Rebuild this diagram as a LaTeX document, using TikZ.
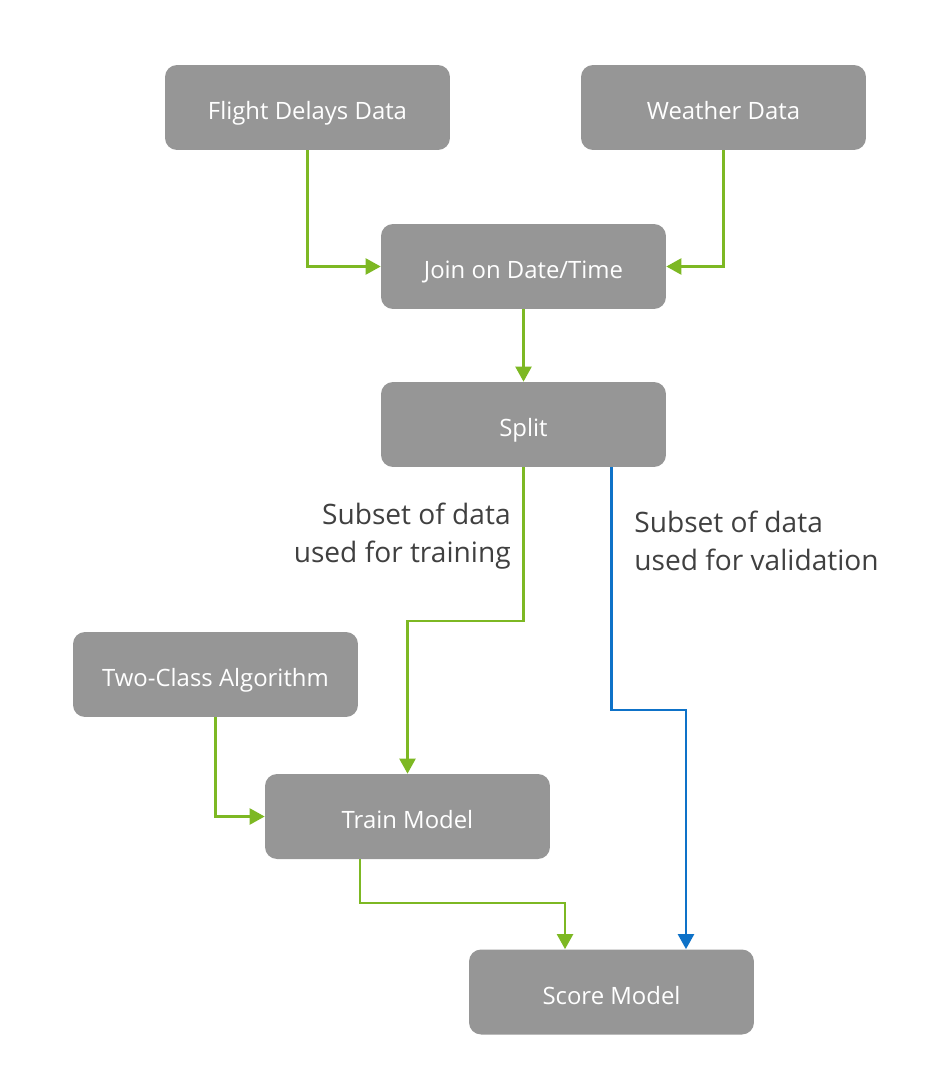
\documentclass[tikz,border=0pt]{standalone}
\usepackage{fontspec}
\setmainfont{Open Sans}
\usetikzlibrary{arrows.meta}
\definecolor{boxgray}{RGB}{150,150,150}
\definecolor{flowgreen}{RGB}{125,184,35}
\definecolor{flowblue}{RGB}{14,114,200}
\definecolor{labelgray}{RGB}{64,64,64}
\begin{document}
\begin{tikzpicture}[x=0.02cm, y=-0.02cm,
  stage/.style={fill=boxgray, rounded corners=0.24cm, minimum width=5.7cm, minimum height=1.7cm,
    text height=14.2pt, text depth=0pt, text=white, font=\fontsize{13.6}{16}\selectfont},
  gline/.style={draw=flowgreen, line width=1.3pt, -{Triangle[length=0.3cm,width=0.32cm]}},
  bline/.style={draw=flowblue, line width=1.3pt, -{Triangle[length=0.3cm,width=0.32cm]}},
  note/.style={text=labelgray, inner sep=0pt, font=\fontsize{16}{21.5}\selectfont}]
\useasboundingbox (0,0) rectangle (938,1084);
% stages
\node (fd)[stage] at (307.5,107.5) {Flight Delays Data};
\node (wd)[stage] at (723.5,107.5) {Weather Data};
\node (join)[stage] at (523.5,266.5) {Join on Date/Time};
\node (split)[stage] at (523.5,424.5) {Split};
\node (algo)[stage] at (215.5,674.5) {Two-Class Algorithm};
\node (train)[stage] at (407.5,816.5) {Train Model};
\node (score)[stage] at (611.5,992) {Score Model};
% bend points
\coordinate (k1) at (465,621);
\coordinate (k2) at (649,710);
\coordinate (k3) at (460,903);
% connectors
\draw[gline] (fd) |- (join);
\draw[gline] (wd) |- (join);
\draw[gline] (join) -- (split);
\draw[gline] (split) |- (k1) -| (train);
\draw[bline] (split.south -| score.center) |- (k2) -| ([xshift=1.49cm]score.north);
\draw[gline] (algo) |- (train);
\draw[gline] ([xshift=-0.95cm]train.south) |- (k3) -| ([xshift=-0.93cm]score.north);
% labels
\node (lt)[note, align=right, anchor=north east] at (511,503) {Subset of data\\used for training};
\node (lv)[note, align=left, anchor=north west] at (634,511) {Subset of data\\used for validation};
\end{tikzpicture}
\end{document}
